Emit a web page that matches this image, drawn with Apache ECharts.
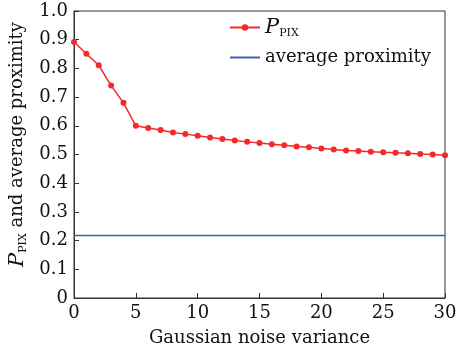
<!DOCTYPE html>
<html>
<head>
<meta charset="utf-8">
<script src="https://cdn.jsdelivr.net/npm/echarts@6/dist/echarts.min.js"></script>
<style>
  html, body { margin: 0; padding: 0; background: #fff; }
  #main { width: 456px; height: 352px; }
</style>
</head>
<body>
<div id="main"></div>
<script>
// noise variance 0..30
var variance = [];
for (var i = 0; i <= 30; i++) variance.push(i);

var pPix = [0.892, 0.851, 0.811, 0.740, 0.680, 0.600, 0.592, 0.585, 0.577, 0.571,
            0.565, 0.559, 0.554, 0.549, 0.544, 0.540, 0.536, 0.532, 0.528, 0.525,
            0.521, 0.517, 0.514, 0.512, 0.510, 0.508, 0.506, 0.504, 0.502, 0.500, 0.497];
var avgProximity = 0.218;
var xRange = [0, 30];

var font = 'DejaVu Serif';
var chart = echarts.init(document.getElementById('main'));

var option = {
    backgroundColor: '#fff',
    animation: false,
    textStyle: { fontFamily: font, color: '#111' },
    grid: {
        left: 74, right: 11, top: 11, bottom: 54,
        outerBoundsMode: 'none',
        containLabel: false,
        show: true, borderColor: '#333', borderWidth: 1
    },
    legend: {
        orient: 'vertical',
        left: 224,
        top: 12,
        itemWidth: 30,
        itemHeight: 8,
        itemGap: 10,
        textStyle: {
            fontFamily: font, fontSize: 18, color: '#111',
            rich: {
                p: { fontFamily: font, fontStyle: 'italic', fontSize: 21, color: '#111' },
                sub: { fontFamily: font, fontSize: 11, color: '#111', padding: [11, 0, 0, 0] }
            }
        },
        formatter: function (name) {
            if (name === 'P_PIX') return '{p|P}{sub|PIX}';
            return name;
        },
        data: ['P_PIX', { name: 'average proximity', itemStyle: { opacity: 0 } }]
    },
    xAxis: {
        type: 'value',
        min: 0, max: 30, interval: 5,
        name: 'Gaussian noise variance',
        nameLocation: 'middle',
        nameGap: 31,
        nameTextStyle: { fontFamily: font, fontSize: 18, color: '#111' },
        axisLine: { lineStyle: { color: '#333' } },
        axisTick: { inside: true, length: 5, lineStyle: { color: '#333' } },
        axisLabel: { fontFamily: font, fontSize: 18, color: '#111', margin: 6 },
        splitLine: { show: false }
    },
    yAxis: {
        type: 'value',
        min: 0, max: 1, interval: 0.1,
        name: '{p|P}{sub|PIX}{t| and average proximity}',
        nameLocation: 'middle',
        nameGap: 45,
        nameTextStyle: {
            fontFamily: font, fontSize: 18, color: '#111',
            padding: [0, 0, 0, 20],
            rich: {
                p: { fontFamily: font, fontStyle: 'italic', fontSize: 21, color: '#111' },
                sub: { fontFamily: font, fontSize: 11, color: '#111', padding: [11, 0, 0, 0] },
                t: { fontFamily: font, fontSize: 18, color: '#111' }
            }
        },
        axisLine: { show: true, lineStyle: { color: '#333' } },
        axisTick: { show: true, inside: true, length: 5, lineStyle: { color: '#333' } },
        axisLabel: {
            fontFamily: font, fontSize: 18, color: '#111', margin: 6,
            formatter: function (v) { return v === 0 ? '0' : v.toFixed(1); }
        },
        splitLine: { show: false }
    },
    series: [
        {
            name: 'P_PIX',
            type: 'line',
            data: variance.map(function (x, i) { return [x, pPix[i]]; }),
            color: '#f42a2a',
            lineStyle: { width: 1.5, color: '#f42a2a' },
            symbol: 'circle',
            symbolSize: 6,
            itemStyle: { color: '#f42a2a' }
        },
        {
            name: 'average proximity',
            type: 'line',
            data: xRange.map(function (x) { return [x, avgProximity]; }),
            color: '#3a5fb0',
            lineStyle: { width: 1.5, color: '#3a5fb0' },
            showSymbol: false,
            symbol: 'none'
        }
    ]
};
chart.setOption(option);
</script>
</body>
</html>
